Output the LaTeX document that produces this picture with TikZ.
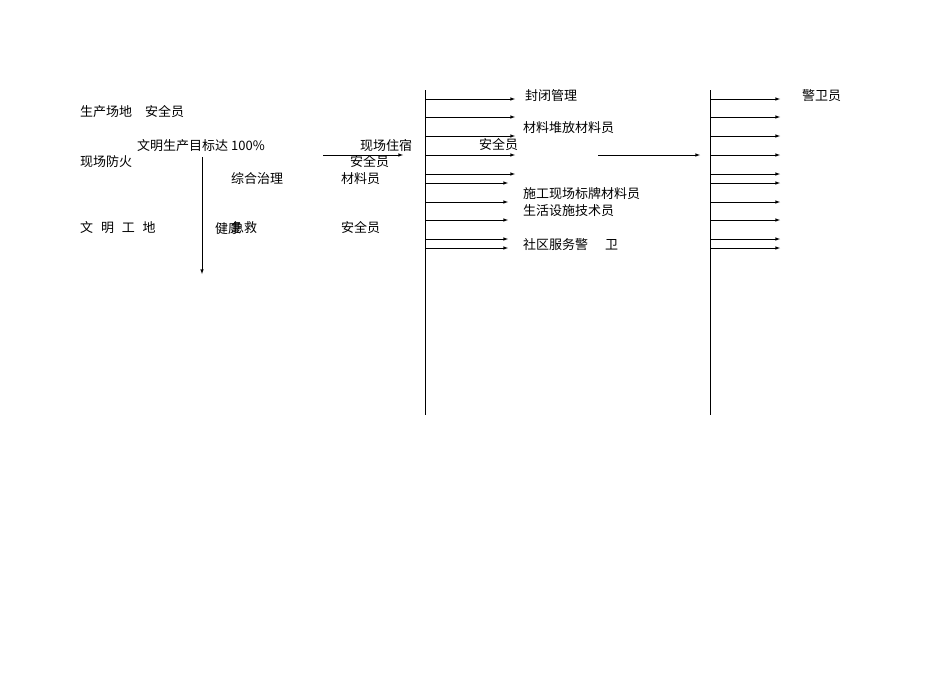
\documentclass[tikz,border=0pt]{standalone}
\usepackage{fontspec}
\setmainfont{Liberation Serif}
\newfontfamily\cjk{Noto Sans CJK SC}
\begin{document}
\begin{tikzpicture}[x=1pt,y=-1pt,
  lbl/.style={anchor=west,inner sep=0pt,font=\cjk\fontsize{13}{14}\selectfont},
  arr/.style={-latex,line width=0.6pt},
  bus/.style={line width=0.6pt}]
\useasboundingbox (0,0) rectangle (950,672);
% text
\node[lbl] (t1) at (80,112) {生产场地\hspace{1em}安全员};
\node[lbl] (t2) at (137,146) {文明生产目标达 100\%};
\node[lbl] (t3) at (80,162) {现场防火};
\node[lbl] (t4) at (360,146) {现场住宿};
\node[lbl] (t5) at (350,162) {安全员};
\node[lbl] (t6) at (231,179) {综合治理};
\node[lbl] (t7) at (341,179) {材料员};
\node[lbl] (t8) at (80,228) {文\hspace{0.6em}明\hspace{0.6em}工\hspace{0.6em}地};
\node[lbl] (t9) at (215,228) {健康};
\node[lbl] (t9b) at (231,228) {急救};
\node[lbl] (t10) at (341,228) {安全员};
\node[lbl] (r1) at (525,96) {封闭管理};
\node[lbl] (r2) at (523,128) {材料堆放材料员};
\node[lbl] (r3) at (479,145) {安全员};
\node[lbl] (r4) at (523,194) {施工现场标牌材料员};
\node[lbl] (r5) at (523,211) {生活设施技术员};
\node[lbl] (r6) at (523,245) {社区服务警\hspace{1.3em}卫};
\node[lbl] (r7) at (802,96) {警卫员};
% buses
\coordinate (b1t) at (425,90); \coordinate (b1b) at (425,415);
\coordinate (b2t) at (710,90); \coordinate (b2b) at (710,415);
\draw[bus] (b1t) -- (b1b);
\draw[bus] (b2t) -- (b2b);
\foreach \y/\e in {99/515,117/515,136/515,155/515,174/515,183/508,202/508,220/508,239/508,248/508}{
  \draw[arr] (425,\y) -- (\e,\y);
  \draw[arr] (710,\y) -- (780,\y);
}
\coordinate (m1) at (598,155); \coordinate (m2) at (700,155);
\draw[arr] (m1) -- (m2);
\coordinate (l1) at (323,155); \coordinate (l2) at (403,155);
\draw[arr] (l1) -- (l2);
\coordinate (v1) at (202,157); \coordinate (v2) at (202,274);
\draw[arr] (v1) -- (v2);
\end{tikzpicture}
\end{document}
